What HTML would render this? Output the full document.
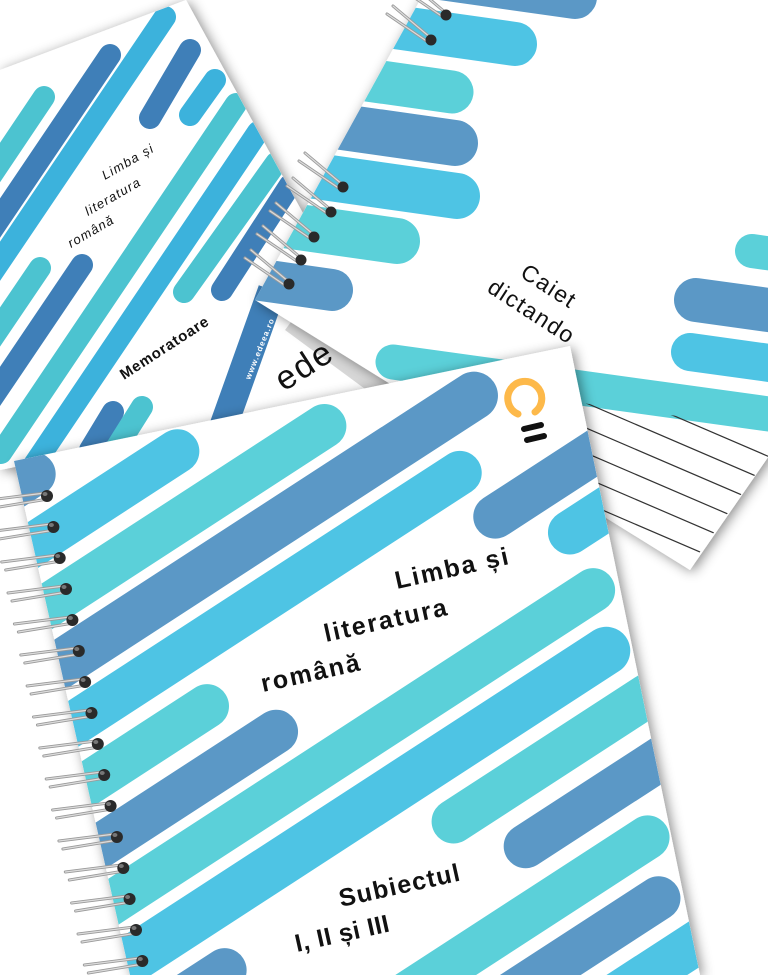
<!DOCTYPE html>
<html><head><meta charset="utf-8"><style>
html,body{margin:0;padding:0;background:#fff;width:768px;height:975px;overflow:hidden;}
svg{display:block;}
text{font-family:"Liberation Sans",sans-serif;}
</style></head><body>
<svg width="768" height="975" viewBox="0 0 768 975" xmlns="http://www.w3.org/2000/svg">
<defs>
<filter id="sh" x="-20%" y="-20%" width="140%" height="140%"><feDropShadow dx="3" dy="2" stdDeviation="6" flood-color="#000" flood-opacity="0.45"/></filter>
<clipPath id="cm"><polygon points="0,70 186,0 400,390 0,470"/></clipPath>
<clipPath id="cc"><polygon points="431,-20 780,-20 780,440 690,570 255,300"/></clipPath>
<clipPath id="cl"><polygon points="560,400 780,430 780,440 690,566 560,490"/></clipPath>
<clipPath id="cf"><polygon points="14,461 570,346 700,975 130,975"/></clipPath>
<g id="ring">
<line x1="-56" y1="7" x2="0" y2="0" stroke="#9a9a9a" stroke-width="3" stroke-linecap="round"/>
<line x1="-56" y1="7" x2="0" y2="0" stroke="#dcdcdc" stroke-width="1.2" stroke-linecap="round"/>
<line x1="-52" y1="15" x2="3" y2="6" stroke="#9a9a9a" stroke-width="3" stroke-linecap="round"/>
<line x1="-52" y1="15" x2="3" y2="6" stroke="#dcdcdc" stroke-width="1.2" stroke-linecap="round"/>
<ellipse cx="2" cy="3" rx="6" ry="6" fill="#2a2a2a"/>
<ellipse cx="0" cy="1" rx="2.5" ry="2" fill="#777"/>
</g>
<g id="ring2">
<line x1="-38" y1="-32" x2="0" y2="0" stroke="#9a9a9a" stroke-width="3" stroke-linecap="round"/>
<line x1="-38" y1="-32" x2="0" y2="0" stroke="#dcdcdc" stroke-width="1.2" stroke-linecap="round"/>
<line x1="-44" y1="-24" x2="-3" y2="4" stroke="#9a9a9a" stroke-width="3" stroke-linecap="round"/>
<line x1="-44" y1="-24" x2="-3" y2="4" stroke="#dcdcdc" stroke-width="1.2" stroke-linecap="round"/>
<ellipse cx="0" cy="2" rx="5.5" ry="5.5" fill="#2a2a2a"/>
</g>
</defs>

<g filter="url(#sh)"><polygon points="0,70 186,0 400,390 0,470" fill="#fff"/></g>
<g clip-path="url(#cm)" stroke-linecap="round" fill="none">
<line x1="44" y1="97" x2="-40" y2="222" stroke="#4cc3d0" stroke-width="22"/>
<line x1="110" y1="55" x2="-114" y2="387" stroke="#3f7fb8" stroke-width="22"/>
<line x1="165" y1="17" x2="-87" y2="390" stroke="#3cb2dc" stroke-width="22"/>
<line x1="190" y1="50" x2="150" y2="118" stroke="#3f7fb8" stroke-width="22"/>
<line x1="215" y1="80" x2="190" y2="115" stroke="#3cb2dc" stroke-width="22"/>
<line x1="236" y1="104" x2="1" y2="453" stroke="#4cc3d0" stroke-width="22"/>
<line x1="258" y1="132" x2="23" y2="481" stroke="#3cb2dc" stroke-width="22"/>
<line x1="276" y1="163" x2="184" y2="292" stroke="#4cc3d0" stroke-width="22"/>
<line x1="290" y1="185" x2="222" y2="290" stroke="#3f7fb8" stroke-width="22"/>
<line x1="40" y1="268" x2="-40" y2="386" stroke="#4cc3d0" stroke-width="22"/>
<line x1="82" y1="265" x2="-20" y2="416" stroke="#3f7fb8" stroke-width="22"/>
<line x1="113" y1="412" x2="90" y2="450" stroke="#3f7fb8" stroke-width="22"/>
<line x1="142" y1="407" x2="115" y2="450" stroke="#4cc3d0" stroke-width="22"/>
<line x1="272" y1="290" x2="222" y2="430" stroke="#3f7fb8" stroke-width="28" stroke-linecap="butt"/>
</g>
<text transform="translate(105,180) rotate(-30)" font-size="13" font-style="italic" letter-spacing="1.2" fill="#111">Limba și</text>
<text transform="translate(88,216) rotate(-30)" font-size="13" font-style="italic" letter-spacing="1.2" fill="#111">literatura</text>
<text transform="translate(71,248) rotate(-30)" font-size="13" font-style="italic" letter-spacing="1.2" fill="#111">română</text>
<text transform="translate(124,380) rotate(-33)" font-size="15" font-weight="bold" letter-spacing="0.8" fill="#111">Memoratoare</text>
<text transform="translate(250,380) rotate(-68)" font-size="8" font-weight="bold" letter-spacing="1" fill="#fff">www.edeea.ro</text>
<polygon points="300,310 400,390 380,400 285,330" fill="#bdbdbd" opacity="0.6"/>
<text transform="translate(284,392) rotate(-33)" font-size="34" letter-spacing="2" fill="#111">ede</text>

<g filter="url(#sh)"><polygon points="431,-20 780,-20 780,440 690,570 255,300" fill="#fff"/></g>
<g clip-path="url(#cc)" stroke-linecap="round" fill="none">
<line x1="179" y1="-59" x2="575" y2="-3" stroke="#5b98c6" stroke-width="44"/>
<line x1="119" y1="-12" x2="515" y2="44" stroke="#4ec4e4" stroke-width="44"/>
<line x1="56" y1="36" x2="452" y2="92" stroke="#5bd0d9" stroke-width="43"/>
<line x1="59" y1="87" x2="455" y2="143" stroke="#5b98c6" stroke-width="46"/>
<line x1="61" y1="140" x2="457" y2="196" stroke="#4ec4e4" stroke-width="46"/>
<line x1="1" y1="185" x2="397" y2="241" stroke="#5bd0d9" stroke-width="46"/>
<line x1="-64" y1="234" x2="332" y2="290" stroke="#5b98c6" stroke-width="42"/>
<line x1="752" y1="251" x2="1000" y2="286" stroke="#5bd0d9" stroke-width="34"/>
<line x1="696" y1="300" x2="1000" y2="342" stroke="#5b98c6" stroke-width="44"/>
<line x1="690" y1="352" x2="1000" y2="395" stroke="#4ec4e4" stroke-width="38"/>
<line x1="393" y1="362" x2="1000" y2="446" stroke="#5bd0d9" stroke-width="35"/>
</g>
<g clip-path="url(#cl)" stroke="#333" stroke-width="1.2">
<line x1="500" y1="341" x2="800" y2="470"/>
<line x1="500" y1="366" x2="800" y2="495"/>
<line x1="500" y1="391" x2="800" y2="520"/>
<line x1="500" y1="416" x2="800" y2="545"/>
<line x1="500" y1="441" x2="800" y2="570"/>
<line x1="500" y1="466" x2="800" y2="595"/>
<line x1="500" y1="491" x2="800" y2="620"/>
<line x1="500" y1="516" x2="800" y2="645"/>
</g>
<text transform="translate(519,276) rotate(33)" font-size="23" letter-spacing="1.5" fill="#111">Caiet</text>
<text transform="translate(486,291) rotate(33)" font-size="23" letter-spacing="1.5" fill="#111">dictando</text>
<use href="#ring2" x="446" y="13"/>
<use href="#ring2" x="431" y="38"/>
<use href="#ring2" x="343" y="185"/>
<use href="#ring2" x="331" y="210"/>
<use href="#ring2" x="314" y="235"/>
<use href="#ring2" x="301" y="258"/>
<use href="#ring2" x="289" y="282"/>

<g filter="url(#sh)"><polygon points="14,461 570,346 700,975 130,975" fill="#fff"/></g>
<g clip-path="url(#cf)">
<g transform="rotate(-33)" stroke-linecap="round" fill="none" stroke-width="44">
<line x1="-1200" y1="416" x2="-230" y2="416" stroke="#5b98c6"/>
<line x1="-1200" y1="475" x2="-97" y2="475" stroke="#4ec4e4"/>
<line x1="-1200" y1="534" x2="40" y2="534" stroke="#5bd0d9"/>
<line x1="-1200" y1="590" x2="182" y2="590" stroke="#5b98c6" stroke-width="48"/>
<line x1="-1200" y1="647" x2="128" y2="647" stroke="#4ec4e4"/>
<line x1="-1200" y1="705" x2="-211" y2="705" stroke="#5bd0d9"/>
<line x1="134" y1="703" x2="1200" y2="703" stroke="#5b98c6"/>
<line x1="-1200" y1="764" x2="-167" y2="764" stroke="#5b98c6"/>
<line x1="188" y1="757" x2="1200" y2="757" stroke="#4ec4e4"/>
<line x1="-1200" y1="818" x2="176" y2="818" stroke="#5bd0d9"/>
<line x1="-1200" y1="876" x2="154" y2="876" stroke="#4ec4e4" stroke-width="48"/>
<line x1="-1200" y1="936" x2="-340" y2="936" stroke="#5b98c6"/>
<line x1="-67" y1="936" x2="1200" y2="936" stroke="#5bd0d9"/>
<line x1="-20" y1="996" x2="1200" y2="996" stroke="#5b98c6"/>
<line x1="-1200" y1="1055" x2="87" y2="1055" stroke="#5bd0d9"/>
<line x1="-1200" y1="1112" x2="63" y2="1112" stroke="#5b98c6"/>
<line x1="-1200" y1="1170" x2="1200" y2="1170" stroke="#4ec4e4"/>
<line x1="-1200" y1="1228" x2="1200" y2="1228" stroke="#5bd0d9"/>
</g>
</g>
<path d="M518 414 A17 17 0 1 1 535 412" fill="none" stroke="#fdb94a" stroke-width="7" stroke-linecap="round"/>
<line x1="524" y1="429" x2="541" y2="425" stroke="#111" stroke-width="6" stroke-linecap="round"/>
<line x1="527" y1="440" x2="544" y2="436" stroke="#111" stroke-width="6" stroke-linecap="round"/>
<g font-size="25" font-weight="bold" fill="#111">
<text transform="translate(397,589) rotate(-12.5)" letter-spacing="2">Limba și</text>
<text transform="translate(326,642) rotate(-12.5)" letter-spacing="2">literatura</text>
<text transform="translate(263,692) rotate(-12.5)" letter-spacing="2">română</text>
<text transform="translate(341,907) rotate(-12.5)" letter-spacing="1.3">Subiectul</text>
<text transform="translate(297,952) rotate(-12.5)" letter-spacing="0.5">I, II și III</text>
</g>
<use href="#ring" x="45" y="493"/>
<use href="#ring" x="51.4" y="524"/>
<use href="#ring" x="57.7" y="555"/>
<use href="#ring" x="64" y="586"/>
<use href="#ring" x="70.4" y="617"/>
<use href="#ring" x="76.8" y="648"/>
<use href="#ring" x="83.1" y="679"/>
<use href="#ring" x="89.5" y="710"/>
<use href="#ring" x="95.8" y="741"/>
<use href="#ring" x="102.2" y="772"/>
<use href="#ring" x="108.6" y="803"/>
<use href="#ring" x="114.9" y="834"/>
<use href="#ring" x="121.3" y="865"/>
<use href="#ring" x="127.6" y="896"/>
<use href="#ring" x="134" y="927"/>
<use href="#ring" x="140.3" y="958"/>
</svg>
</body></html>
